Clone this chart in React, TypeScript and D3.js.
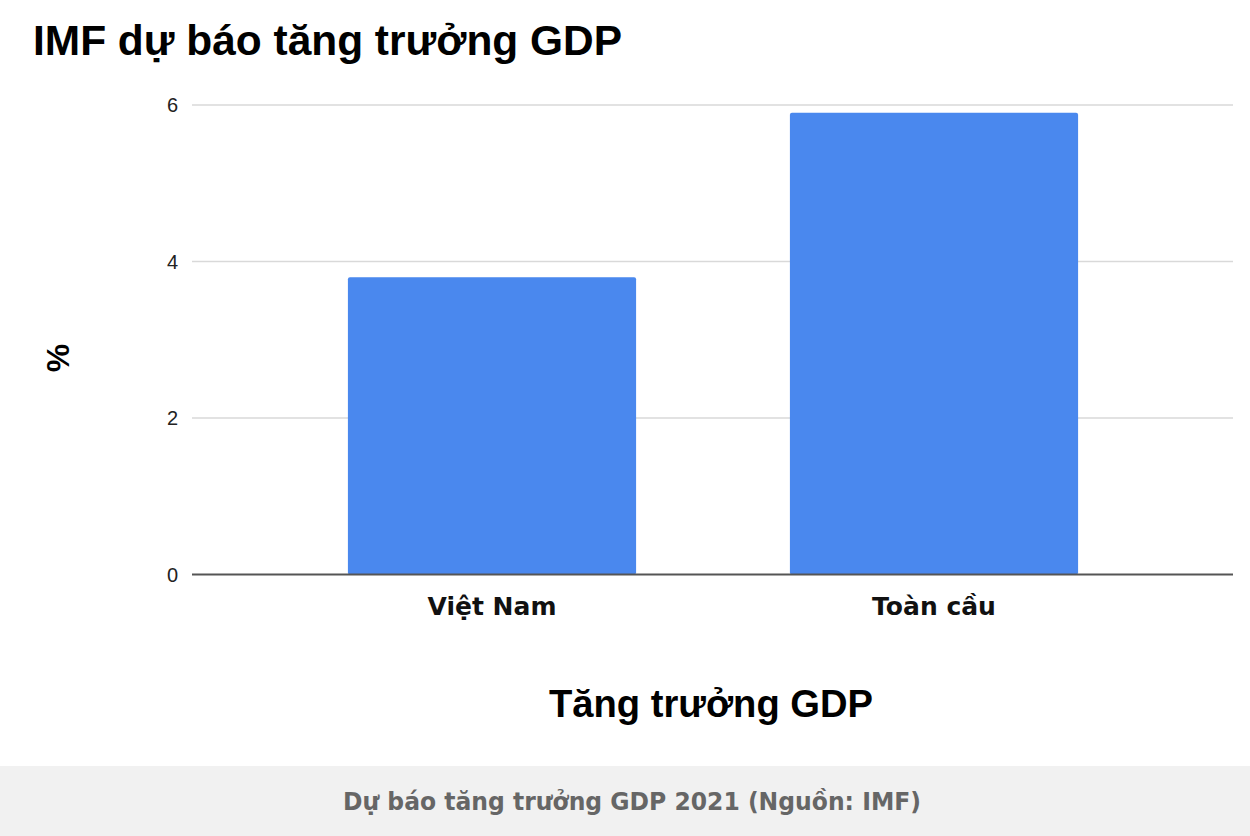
import React from "react";
import * as d3 from "d3";

const categories = ["Việt Nam", "Toàn cầu"];
const values = [3.8, 5.9];
const yTicks = [0, 2, 4, 6];
const title = "IMF dự báo tăng trưởng GDP";
const xTitle = "Tăng trưởng GDP";
const yTitle = "%";
const caption = "Dự báo tăng trưởng GDP 2021 (Nguồn: IMF)";

const W = 1250;
const H = 836;

export default function App() {
  const y = d3.scaleLinear().domain([0, 6]).range([574.5, 105]);
  const x = d3
    .scaleBand<string>()
    .domain(categories)
    .range([271, 1155])
    .paddingInner(0.348)
    .paddingOuter(0.174);
  const gridX0 = 192;
  const gridX1 = 1233;
  return (
    <div style={{ position: "absolute", left: 0, top: 0 }}>
      <svg width={W} height={H} style={{ display: "block", background: "#fff" }}>
        <rect x={0} y={0} width={W} height={H} fill="#ffffff" />
        <text
          x={33}
          y={55}
          fontFamily="'Liberation Sans', Arial, sans-serif"
          fontWeight="bold"
          fontSize={42}
          fill="#000"
          textLength={589}
          lengthAdjust="spacingAndGlyphs"
        >
          {title}
        </text>
        {yTicks.map((t) => (
          <g key={t}>
            {t !== 0 && (
              <line
                x1={gridX0}
                x2={gridX1}
                y1={y(t)}
                y2={y(t)}
                stroke="#d9d9d9"
                strokeWidth={1.5}
              />
            )}
            <text
              x={178}
              y={y(t) + 7}
              textAnchor="end"
              fontFamily="'Liberation Sans', Arial, sans-serif"
              fontSize={20}
              fill="#222"
            >
              {t}
            </text>
          </g>
        ))}
        {categories.map((c, i) => (
          <rect
            key={c}
            x={x(c)}
            y={y(values[i])}
            width={x.bandwidth()}
            height={y(0) - y(values[i])}
            fill="#4a88ee"
            rx={2}
          />
        ))}
        <line x1={gridX0} x2={gridX1} y1={y(0)} y2={y(0)} stroke="#555" strokeWidth={2} />
        {categories.map((c) => (
          <text
            key={c}
            x={(x(c) as number) + x.bandwidth() / 2}
            y={615}
            textAnchor="middle"
            fontFamily="'DejaVu Sans', Verdana, sans-serif"
            fontWeight="bold"
            fontSize={25}
            fill="#111"
          >
            {c}
          </text>
        ))}
        <text
          transform="translate(69,358) rotate(-90)"
          textAnchor="middle"
          fontFamily="'Liberation Sans', Arial, sans-serif"
          fontWeight="bold"
          fontSize={32}
          fill="#000"
        >
          {yTitle}
        </text>
        <text
          x={711}
          y={717}
          textAnchor="middle"
          fontFamily="'Liberation Sans', Arial, sans-serif"
          fontWeight="bold"
          fontSize={39}
          fill="#000"
          textLength={324}
          lengthAdjust="spacingAndGlyphs"
        >
          {xTitle}
        </text>
        <rect x={0} y={766} width={W} height={H - 766} fill="#f1f1f1" />
        <text
          x={632}
          y={810}
          textAnchor="middle"
          fontFamily="'DejaVu Sans', Tahoma, sans-serif"
          fontWeight="bold"
          fontSize={24}
          fill="#666"
          textLength={578}
          lengthAdjust="spacingAndGlyphs"
        >
          {caption}
        </text>
      </svg>
    </div>
  );
}
